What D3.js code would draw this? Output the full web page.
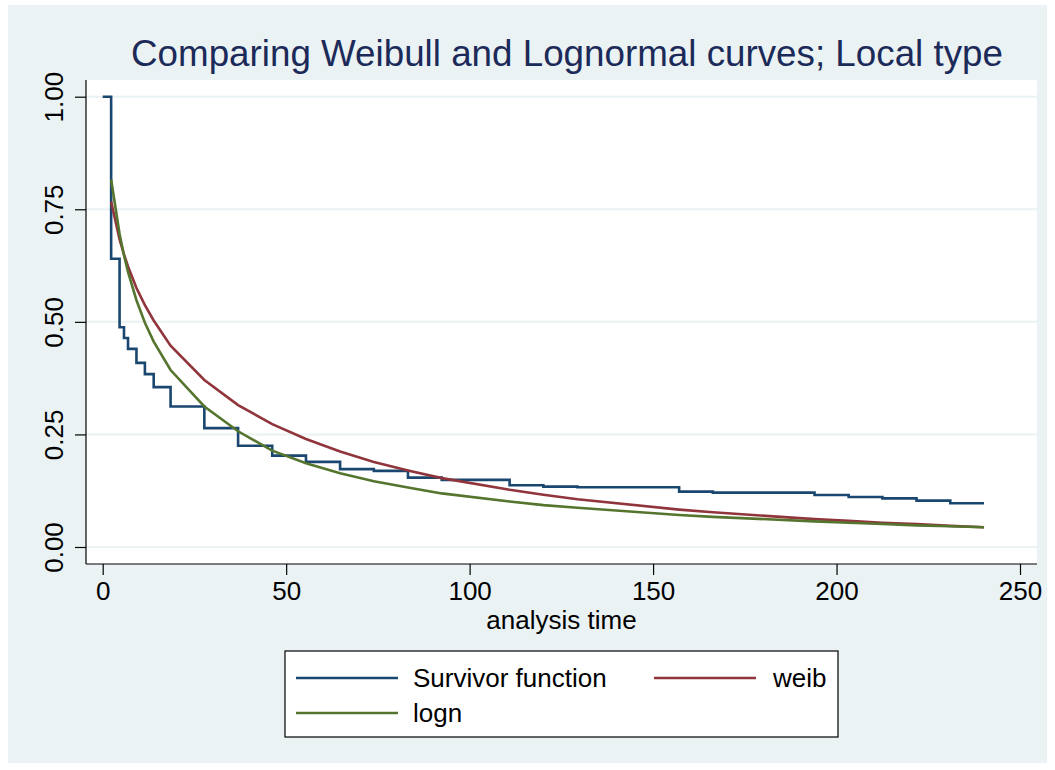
<!DOCTYPE html>
<html>
<head>
<meta charset="utf-8">
<script src="https://cdn.jsdelivr.net/npm/d3@7"></script>
<style>
  body { margin: 0; background: #ffffff; }
  svg { display: block; font-family: "Liberation Sans", Arial, sans-serif; }
</style>
</head>
<body>
<div id="chart"></div>
<script>
// survivor step function: time of each drop and the value after it
const survTimes = [0, 2.3, 4.6, 5.8, 6.9, 9.2, 11.5, 13.9, 18.5, 27.7, 36.9, 46.2, 55.4, 64.7, 73.9,
    83.2, 92.4, 110.9, 120.1, 129.4, 157.1, 166.3, 194.0, 203.3, 212.5, 221.8, 231.0, 240.2];
const survValues = [1.0, 0.64, 0.488, 0.464, 0.44, 0.409, 0.384, 0.355, 0.312, 0.264, 0.225, 0.203, 0.189,
    0.173, 0.169, 0.154, 0.149, 0.137, 0.134, 0.1326, 0.123, 0.1207, 0.1156, 0.111, 0.108, 0.103, 0.097, 0.097];

// fitted curves, evaluated at the failure times
const fitTimes = [2.3, 4.6, 5.8, 6.9, 9.2, 11.5, 13.9, 18.5, 27.7, 36.9, 46.2, 55.4, 64.7, 73.9,
    83.2, 92.4, 110.9, 120.1, 129.4, 157.1, 166.3, 194.0, 203.3, 212.5, 221.8, 231.0, 240.2];
const weibValues = [0.767, 0.683, 0.650, 0.623, 0.575, 0.537, 0.503, 0.447, 0.371, 0.315, 0.273, 0.240,
    0.212, 0.189, 0.170, 0.153, 0.127, 0.116, 0.106, 0.083, 0.077, 0.062, 0.058, 0.054, 0.051, 0.047, 0.044];
const lognValues = [0.816, 0.695, 0.648, 0.611, 0.548, 0.498, 0.456, 0.393, 0.312, 0.257, 0.214, 0.186,
    0.164, 0.146, 0.132, 0.119, 0.101, 0.093, 0.087, 0.071, 0.067, 0.057, 0.054, 0.051, 0.048, 0.046, 0.044];

const xTicks = [0, 50, 100, 150, 200, 250];
const yTicks = [0, 0.25, 0.5, 0.75, 1];

const titleText = "Comparing Weibull and Lognormal curves; Local type";
const xLabel = "analysis time";
const legendItems = [
    { label: "Survivor function", color: "#1a476f" },
    { label: "weib", color: "#90353b" },
    { label: "logn", color: "#55752f" },
];

const width = 1055;
const height = 770;
const plot = { left: 86, right: 1037, top: 80, bottom: 564 };

const svg = d3.select("#chart")
    .append("svg")
    .attr("width", width)
    .attr("height", height);

// graph region background
svg.append("rect")
    .attr("x", 8).attr("y", 5)
    .attr("width", 1039).attr("height", 758)
    .attr("fill", "#eaf2f3");

// plot region
svg.append("rect")
    .attr("x", plot.left).attr("y", plot.top)
    .attr("width", plot.right - plot.left).attr("height", plot.bottom - plot.top)
    .attr("fill", "#ffffff");

const xScale = d3.scaleLinear().domain([0, 250]).range([102.7, 1020]);
const yScale = d3.scaleLinear().domain([0, 1]).range([547, 96.7]);

// gridlines
svg.append("g")
    .selectAll("line")
    .data(yTicks)
    .join("line")
    .attr("x1", plot.left)
    .attr("x2", plot.right)
    .attr("y1", (d) => yScale(d))
    .attr("y2", (d) => yScale(d))
    .attr("stroke", "#eaf2f3")
    .attr("stroke-width", 2);

// lines
const survData = survTimes.map((t, i) => ({ t, v: survValues[i] }));
const weibData = fitTimes.map((t, i) => ({ t, v: weibValues[i] }));
const lognData = fitTimes.map((t, i) => ({ t, v: lognValues[i] }));

const stepLine = d3.line()
    .x((d) => xScale(d.t))
    .y((d) => yScale(d.v))
    .curve(d3.curveStepAfter);
const fitLine = d3.line()
    .x((d) => xScale(d.t))
    .y((d) => yScale(d.v));

svg.append("path")
    .datum(survData)
    .attr("d", stepLine)
    .attr("fill", "none")
    .attr("stroke", legendItems[0].color)
    .attr("stroke-width", 2.6);

svg.append("path")
    .datum(weibData)
    .attr("d", fitLine)
    .attr("fill", "none")
    .attr("stroke", legendItems[1].color)
    .attr("stroke-width", 2.6);

svg.append("path")
    .datum(lognData)
    .attr("d", fitLine)
    .attr("fill", "none")
    .attr("stroke", legendItems[2].color)
    .attr("stroke-width", 2.6);

// axes
const xAxis = d3.axisBottom(xScale).tickValues(xTicks).tickSize(11).tickPadding(7).tickSizeOuter(0);
const gx = svg.append("g")
    .attr("transform", `translate(0, ${plot.bottom})`)
    .call(xAxis);
gx.select(".domain").attr("d", `M${plot.left},0H${plot.right}`);

const yAxis = d3.axisLeft(yScale).tickValues(yTicks).tickSize(11).tickFormat(d3.format(".2f")).tickSizeOuter(0);
const gy = svg.append("g")
    .attr("transform", `translate(${plot.left}, 0)`)
    .call(yAxis);
gy.select(".domain").attr("d", `M0,${plot.top}V${plot.bottom}`);

[gx, gy].forEach((g) => {
    g.selectAll(".domain, .tick line").attr("stroke", "#000").attr("stroke-width", 1.2);
    g.selectAll(".tick text")
        .attr("fill", "#000")
        .style("font-size", "26px")
        .style("font-family", "'Liberation Sans', Arial, sans-serif");
});
gy.selectAll(".tick text")
    .attr("x", null).attr("dy", null)
    .attr("text-anchor", "middle")
    .attr("transform", "translate(-23, 0) rotate(-90)");

// axis title
svg.append("text")
    .attr("x", (plot.left + plot.right) / 2)
    .attr("y", 629)
    .attr("text-anchor", "middle")
    .style("font-size", "26px")
    .text(xLabel);

// title, sized to the width seen in the reference
const title = svg.append("text")
    .attr("x", 567)
    .attr("y", 66)
    .attr("text-anchor", "middle")
    .attr("fill", "#1c2a59")
    .style("font-size", "36px")
    .text(titleText);
const tw = title.node().getComputedTextLength();
title.style("font-size", (36 * 872 / tw).toFixed(2) + "px");

// legend
const legend = svg.append("g");
legend.append("rect")
    .attr("x", 285).attr("y", 651)
    .attr("width", 553).attr("height", 86)
    .attr("fill", "#ffffff")
    .attr("stroke", "#000")
    .attr("stroke-width", 1.2);

const legendPos = [
    { x: 296, y: 678 },
    { x: 654, y: 678 },
    { x: 296, y: 713 },
];
const legendText = [413, 773, 413];

legendItems.forEach((item, i) => {
    const p = legendPos[i];
    legend.append("line")
        .attr("x1", p.x).attr("x2", p.x + 102)
        .attr("y1", p.y).attr("y2", p.y)
        .attr("stroke", item.color)
        .attr("stroke-width", 2.6);
    legend.append("text")
        .attr("x", legendText[i])
        .attr("y", p.y + 9)
        .style("font-size", "26px")
        .text(item.label);
});
</script>
</body>
</html>
